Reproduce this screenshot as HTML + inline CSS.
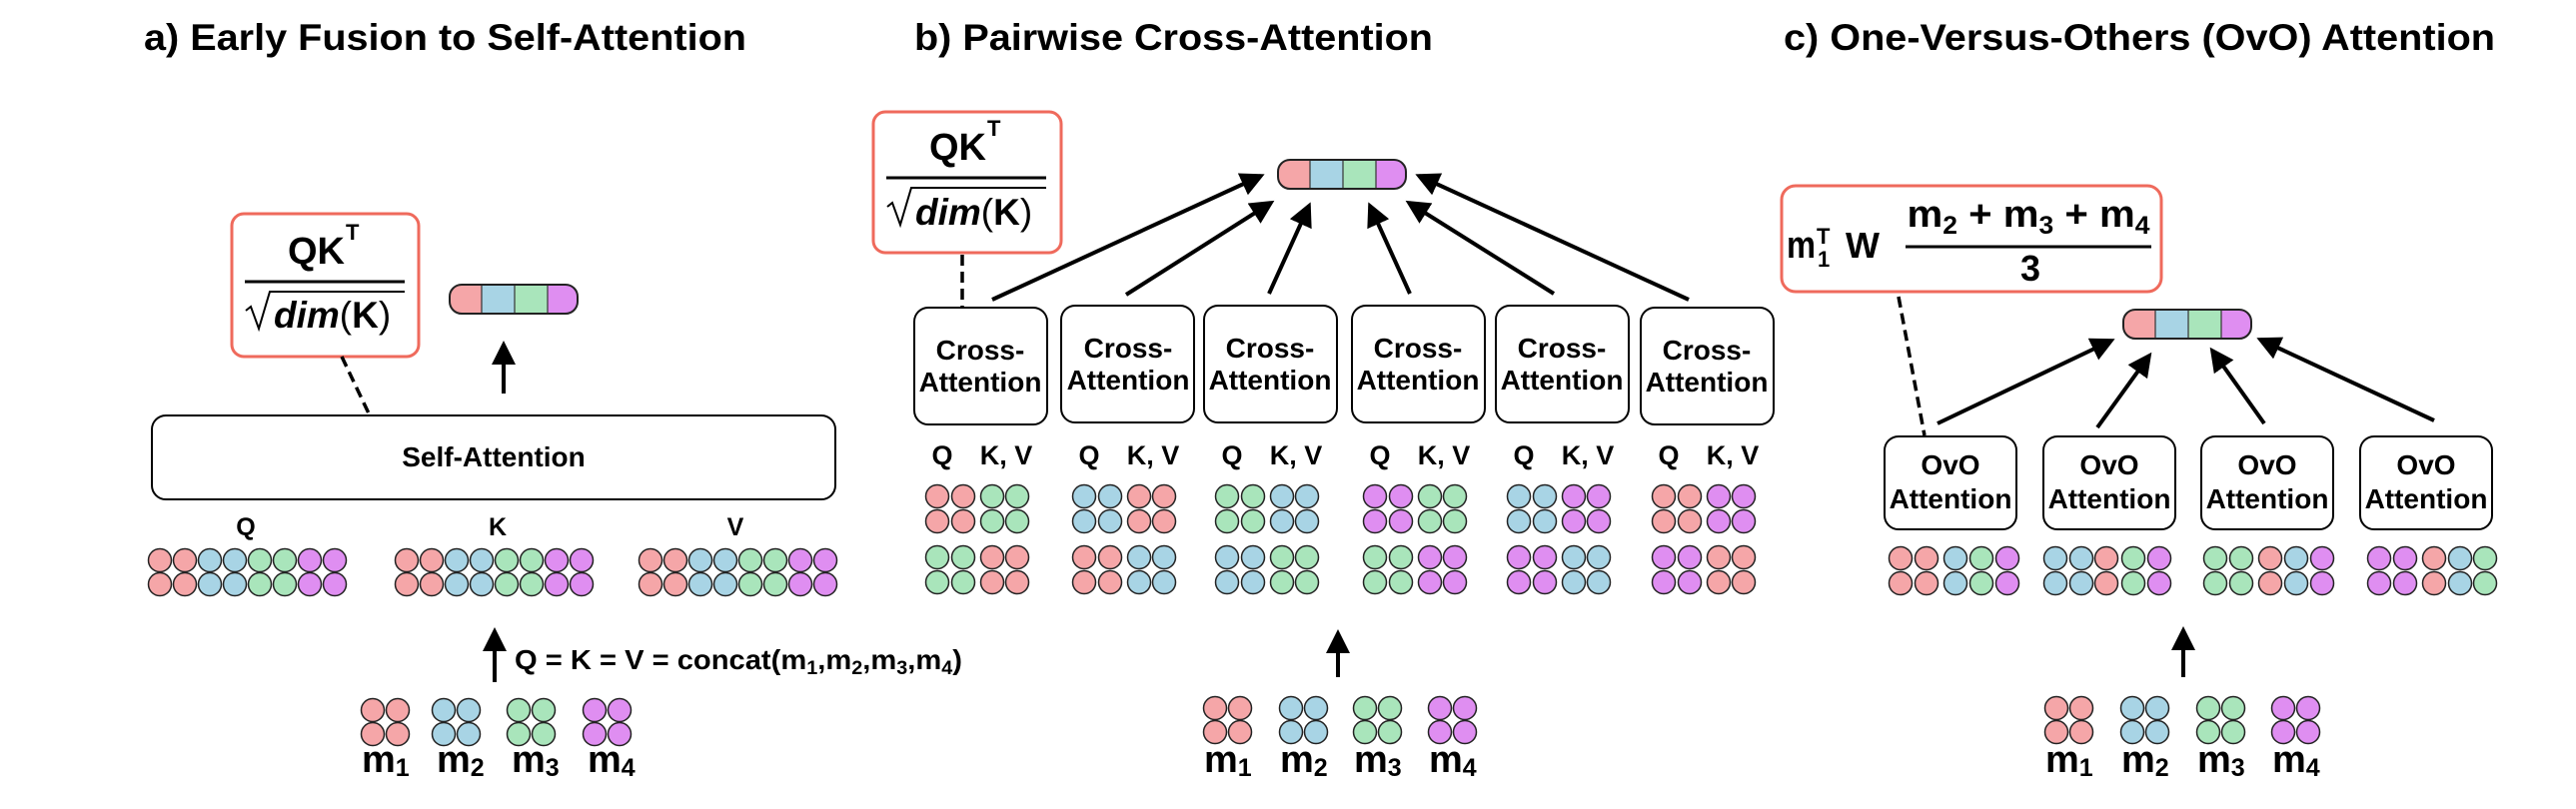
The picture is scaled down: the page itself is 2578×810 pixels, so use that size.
<!DOCTYPE html>
<html><head><meta charset="utf-8">
<style>
html,body{margin:0;padding:0;background:#fff;}
svg{display:block;}
text{font-family:"Liberation Sans",Arial,sans-serif;font-weight:bold;fill:#000;}
</style></head>
<body>
<svg id="s" width="2578" height="810" viewBox="0 0 2578 810" xmlns="http://www.w3.org/2000/svg">
<defs>
<marker id="ah" markerWidth="6" markerHeight="6" refX="5" refY="3" orient="auto" markerUnits="strokeWidth">
<path d="M0,0 L6,3 L0,6 z" fill="#000"/>
</marker>
</defs>

<!-- Titles -->
<text x="144" y="50" font-size="37" textLength="603" lengthAdjust="spacingAndGlyphs">a) Early Fusion to Self-Attention</text>
<text x="915" y="50" font-size="37" textLength="519" lengthAdjust="spacingAndGlyphs">b) Pairwise Cross-Attention</text>
<text x="1785" y="50" font-size="37" textLength="712" lengthAdjust="spacingAndGlyphs">c) One-Versus-Others (OvO) Attention</text>

<!-- ===== Panel a ===== -->
<rect x="232" y="214" width="187" height="143" rx="12" fill="#fff" stroke="#ef6a5c" stroke-width="3"/>
<text x="288" y="264" font-size="38" textLength="57" lengthAdjust="spacingAndGlyphs">QK</text>
<text x="346" y="240" font-size="22">T</text>
<line x1="245" y1="282" x2="405" y2="282" stroke="#000" stroke-width="3"/>
<path d="M246,311 L251,307 L259,329 L270,292 L405,292" fill="none" stroke="#000" stroke-width="2"/>
<text x="274" y="328" font-size="37"><tspan font-style="italic">dim</tspan><tspan font-weight="normal">(</tspan>K<tspan font-weight="normal">)</tspan></text>
<line x1="342" y1="357" x2="370" y2="416" stroke="#000" stroke-width="3.5" stroke-dasharray="11,6"/>

<g id="bar-a"></g>
<line x1="504" y1="394" x2="504" y2="345" stroke="#000" stroke-width="4" marker-end="url(#ah)"/>

<rect x="152" y="416" width="684" height="84" rx="14" fill="#fff" stroke="#000" stroke-width="2"/>
<text x="494" y="467" font-size="28" text-anchor="middle">Self-Attention</text>
<text x="246" y="536" font-size="25" text-anchor="middle">Q</text>
<text x="498" y="536" font-size="25" text-anchor="middle">K</text>
<text x="736" y="536" font-size="25" text-anchor="middle">V</text>

<line x1="495" y1="683" x2="495" y2="632" stroke="#000" stroke-width="4" marker-end="url(#ah)"/>
<text x="515" y="670" font-size="28" textLength="448" lengthAdjust="spacingAndGlyphs">Q = K = V = concat(m<tspan font-size="19" dy="5">1</tspan><tspan dy="-5">,m</tspan><tspan font-size="19" dy="5">2</tspan><tspan dy="-5">,m</tspan><tspan font-size="19" dy="5">3</tspan><tspan dy="-5">,m</tspan><tspan font-size="19" dy="5">4</tspan><tspan dy="-5">)</tspan></text>

<!-- ===== Panel b ===== -->
<rect x="874" y="112" width="188" height="141" rx="12" fill="#fff" stroke="#ef6a5c" stroke-width="3"/>
<text x="930" y="160" font-size="38" textLength="57" lengthAdjust="spacingAndGlyphs">QK</text>
<text x="988" y="136" font-size="22">T</text>
<line x1="887" y1="178" x2="1047" y2="178" stroke="#000" stroke-width="3"/>
<path d="M888,207 L893,203 L901,225 L912,188 L1047,188" fill="none" stroke="#000" stroke-width="2"/>
<text x="916" y="225" font-size="37"><tspan font-style="italic">dim</tspan><tspan font-weight="normal">(</tspan>K<tspan font-weight="normal">)</tspan></text>
<line x1="963" y1="255" x2="963" y2="307" stroke="#000" stroke-width="3.5" stroke-dasharray="11,6"/>

<g id="bar-b"></g>
<g stroke="#000" stroke-width="4">
<line x1="993" y1="300" x2="1262" y2="176" marker-end="url(#ah)"/>
<line x1="1127" y1="295" x2="1272" y2="203" marker-end="url(#ah)"/>
<line x1="1270" y1="294" x2="1310" y2="206" marker-end="url(#ah)"/>
<line x1="1411" y1="294" x2="1371" y2="206" marker-end="url(#ah)"/>
<line x1="1555" y1="294" x2="1410" y2="203" marker-end="url(#ah)"/>
<line x1="1690" y1="300" x2="1420" y2="176" marker-end="url(#ah)"/>
</g>
<g id="cross"></g>

<line x1="1339" y1="678" x2="1339" y2="634" stroke="#000" stroke-width="4" marker-end="url(#ah)"/>

<!-- ===== Panel c ===== -->
<rect x="1783" y="186" width="380" height="106" rx="14" fill="#fff" stroke="#ef6a5c" stroke-width="3"/>
<text x="1788" y="258" font-size="38" textLength="29" lengthAdjust="spacingAndGlyphs">m</text>
<text x="1818" y="244" font-size="22">T</text>
<text x="1819" y="267" font-size="22">1</text>
<text x="1847" y="258" font-size="36">W</text>
<text x="2030" y="227" font-size="38" text-anchor="middle" textLength="243" lengthAdjust="spacingAndGlyphs">m<tspan font-size="25" dy="7">2</tspan><tspan dy="-7"> + m</tspan><tspan font-size="25" dy="7">3</tspan><tspan dy="-7"> + m</tspan><tspan font-size="25" dy="7">4</tspan></text>
<line x1="1907" y1="247" x2="2153" y2="247" stroke="#000" stroke-width="3"/>
<text x="2032" y="281" font-size="36" text-anchor="middle">3</text>
<line x1="1900" y1="297" x2="1926" y2="436" stroke="#000" stroke-width="3.5" stroke-dasharray="11,6"/>

<g id="bar-c"></g>
<g stroke="#000" stroke-width="4">
<line x1="1939" y1="424" x2="2113" y2="341" marker-end="url(#ah)"/>
<line x1="2099" y1="428" x2="2151" y2="356" marker-end="url(#ah)"/>
<line x1="2266" y1="424" x2="2214" y2="351" marker-end="url(#ah)"/>
<line x1="2436" y1="421" x2="2262" y2="340" marker-end="url(#ah)"/>
</g>
<g id="ovo"></g>

<line x1="2185" y1="678" x2="2185" y2="631" stroke="#000" stroke-width="4" marker-end="url(#ah)"/>

<!-- m labels -->
<g font-size="38">
<text x="362" y="773">m<tspan font-size="25" dy="4">1</tspan></text>
<text x="437" y="773">m<tspan font-size="25" dy="4">2</tspan></text>
<text x="512" y="773">m<tspan font-size="25" dy="4">3</tspan></text>
<text x="588" y="773">m<tspan font-size="25" dy="4">4</tspan></text>

<text x="1205" y="773">m<tspan font-size="25" dy="4">1</tspan></text>
<text x="1281" y="773">m<tspan font-size="25" dy="4">2</tspan></text>
<text x="1355" y="773">m<tspan font-size="25" dy="4">3</tspan></text>
<text x="1430" y="773">m<tspan font-size="25" dy="4">4</tspan></text>

<text x="2047" y="773">m<tspan font-size="25" dy="4">1</tspan></text>
<text x="2123" y="773">m<tspan font-size="25" dy="4">2</tspan></text>
<text x="2199" y="773">m<tspan font-size="25" dy="4">3</tspan></text>
<text x="2274" y="773">m<tspan font-size="25" dy="4">4</tspan></text>
</g>

<!-- Cross-attention box labels -->
<g font-size="28" text-anchor="middle">
<text x="981" y="360">Cross-</text><text x="981" y="392">Attention</text>
<text x="1129" y="358">Cross-</text><text x="1129" y="390">Attention</text>
<text x="1271" y="358">Cross-</text><text x="1271" y="390">Attention</text>
<text x="1419" y="358">Cross-</text><text x="1419" y="390">Attention</text>
<text x="1563" y="358">Cross-</text><text x="1563" y="390">Attention</text>
<text x="1708" y="360">Cross-</text><text x="1708" y="392">Attention</text>
</g>
<g font-size="27" text-anchor="middle">
<text x="943" y="465">Q</text><text x="1007" y="465">K, V</text>
<text x="1090" y="465">Q</text><text x="1154" y="465">K, V</text>
<text x="1233" y="465">Q</text><text x="1297" y="465">K, V</text>
<text x="1381" y="465">Q</text><text x="1445" y="465">K, V</text>
<text x="1525" y="465">Q</text><text x="1589" y="465">K, V</text>
<text x="1670" y="465">Q</text><text x="1734" y="465">K, V</text>
</g>
<g font-size="28" text-anchor="middle">
<text x="1952" y="475">OvO</text><text x="1952" y="509">Attention</text>
<text x="2111" y="475">OvO</text><text x="2111" y="509">Attention</text>
<text x="2269" y="475">OvO</text><text x="2269" y="509">Attention</text>
<text x="2428" y="475">OvO</text><text x="2428" y="509">Attention</text>
</g>
<g id="circles"></g>
</svg>
<script>
(function(){
var NS="http://www.w3.org/2000/svg";
var C={p:"#f5a6a8",b:"#a8d4e5",g:"#a9e5bb",u:"#df8ef1"};
var s=document.getElementById("s");
function el(tag,attrs,parent){var e=document.createElementNS(NS,tag);for(var k in attrs)e.setAttribute(k,attrs[k]);(parent||s).appendChild(e);return e;}
var cg=document.getElementById("circles");
function circ(x,y,c){el("circle",{cx:x,cy:y,r:11.5,fill:C[c],stroke:"#222","stroke-width":1.5},cg);}
function bar(x,y,id){
  var g=document.getElementById(id);
  var w=128,h=29,seg=[["p",0,32],["b",32,65],["g",65,98],["u",98,128]];
  var cp=el("clipPath",{id:"cl"+id},g);
  el("rect",{x:x,y:y,width:w,height:h,rx:12},cp);
  seg.forEach(function(sg){el("rect",{x:x+sg[1],y:y,width:sg[2]-sg[1],height:h,fill:C[sg[0]],"clip-path":"url(#cl"+id+")"},g);});
  [32,65,98].forEach(function(d){el("line",{x1:x+d,y1:y,x2:x+d,y2:y+h,stroke:"#333","stroke-width":1.2},g);});
  el("rect",{x:x,y:y,width:w,height:h,rx:12,fill:"none",stroke:"#222","stroke-width":2},g);
}
bar(450,285,"bar-a");bar(1279,160,"bar-b");bar(2125,310,"bar-c");
var seq="ppbbgguu";
[160,407,651].forEach(function(x0){for(var i=0;i<8;i++){circ(x0+i*25,561,seq[i]);circ(x0+i*25,585,seq[i]);}});
function mg(xs,ys){var cs="pbgu";for(var k=0;k<4;k++){var x=xs[k];circ(x,ys[0],cs[k]);circ(x+25,ys[0],cs[k]);circ(x,ys[1],cs[k]);circ(x+25,ys[1],cs[k]);}}
mg([373,444,519,595],[711,735]);
mg([1216,1292,1366,1441],[709,733]);
mg([2058,2134,2210,2285],[709,733]);
var cb=document.getElementById("cross");
var boxes=[[915,308,"pg"],[1062,306,"bp"],[1205,306,"gb"],[1353,306,"ug"],[1497,306,"bu"],[1642,308,"pu"]];
boxes.forEach(function(b){
  el("rect",{x:b[0],y:b[1],width:133,height:117,rx:14,fill:"#fff",stroke:"#000","stroke-width":2},cb);
  var a=b[2][0],c=b[2][1],off=[23,49,78,103];
  var top=[a,a,c,c],bot=[c,c,a,a];
  for(var i=0;i<4;i++){circ(b[0]+off[i],497,top[i]);circ(b[0]+off[i],522,top[i]);circ(b[0]+off[i],558,bot[i]);circ(b[0]+off[i],583,bot[i]);}
});
var ob=document.getElementById("ovo");
var ov=[[1886,"ppbgu",[1902,1928,1957,1983,2009]],[2045,"bbpgu",[2057,2083,2108,2135,2161]],[2203,"ggpbu",[2217,2243,2272,2298,2324]],[2362,"uupbg",[2381,2407,2436,2462,2487]]];
ov.forEach(function(o){
  el("rect",{x:o[0],y:437,width:132,height:93,rx:14,fill:"#fff",stroke:"#000","stroke-width":2},ob);
  for(var i=0;i<5;i++){circ(o[2][i],559,o[1][i]);circ(o[2][i],584,o[1][i]);}
});
})();
</script>
</body></html>
